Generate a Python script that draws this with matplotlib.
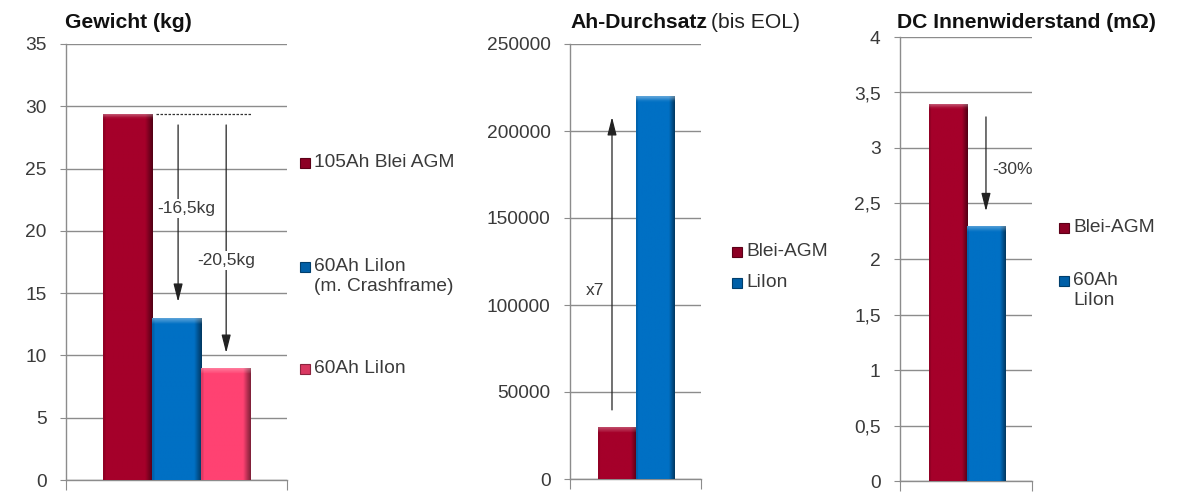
import matplotlib
matplotlib.use("Agg")
import matplotlib.pyplot as plt
import numpy as np
from matplotlib.lines import Line2D
from matplotlib.patches import Rectangle

plt.rcParams['font.family'] = ['Liberation Sans', 'DejaVu Sans']

# ---------------- data ----------------
w_labels = ["105Ah Blei AGM", "60Ah LiIon\n(m. Crashframe)", "60Ah LiIon"]
w_values = [29.4, 13.0, 9.0]
w_ticks = [0, 5, 10, 15, 20, 25, 30, 35]
w_ticklabels = ["0", "5", "10", "15", "20", "25", "30", "35"]

a_labels = ["Blei-AGM", "LiIon"]
a_values = [30000, 220000]
a_ticks = [0, 50000, 100000, 150000, 200000, 250000]
a_ticklabels = ["0", "50000", "100000", "150000", "200000", "250000"]

r_labels = ["Blei-AGM", "60Ah\nLiIon"]
r_values = [3.4, 2.3]
r_ticks = [0, 0.5, 1, 1.5, 2, 2.5, 3, 3.5, 4]
r_ticklabels = ["0", "0,5", "1", "1,5", "2", "2,5", "3", "3,5", "4"]

RED = "#A5002A"
BLUE = "#0070C4"
PINK = "#FF4272"
GRID = "#8C8C8C"
TXT = "#3A3A3A"

fig = plt.figure(figsize=(12, 4.98), dpi=100)
W, H = 1200, 498


def px_axes(l, r, top, bot):
    return fig.add_axes([l / W, 1 - bot / H, (r - l) / W, (bot - top) / H])


def shade(c, f):
    c = np.array(matplotlib.colors.to_rgb(c))
    if f < 0:
        return tuple(c * (1 + f))
    return tuple(c + (1 - c) * f)


def style(ax, ticks, labels, ylim, xlim):
    ax.set_ylim(*ylim)
    ax.set_xlim(*xlim)
    for s in ("top", "right"):
        ax.spines[s].set_visible(False)
    for s in ("left", "bottom"):
        ax.spines[s].set_color(GRID)
        ax.spines[s].set_linewidth(1)
    ax.set_yticks(ticks)
    ax.set_yticklabels(labels, fontsize=13.8, color=TXT)
    ax.tick_params(axis="y", length=4, color=GRID, pad=10)
    ax.set_xticks([xlim[0], xlim[1]])
    ax.set_xticklabels([])
    ax.tick_params(axis="x", length=7, color=GRID, direction="out")
    ax.yaxis.grid(True, color=GRID, lw=1)
    ax.set_axisbelow(True)
    ax.patch.set_alpha(0)


def draw_bars(ax, values, colors):
    bars = ax.bar(range(len(values)), values, width=1.0, color=colors, zorder=3)
    ylo, yhi = ax.get_ylim()
    bb = ax.get_window_extent()
    per_px = (yhi - ylo) / bb.height
    for b, c in zip(bars, colors):
        x0, y0 = b.get_x(), b.get_y()
        w, h = b.get_width(), b.get_height()
        n = 60
        grad = np.ones(n)
        k = int(n * 0.86)
        grad[k:] = np.linspace(0.95, 0.5, n - k)
        grad[:3] = 0.88
        base = np.array(matplotlib.colors.to_rgb(c))
        img = base[None, None, :] * grad[None, :, None]
        # vertical top bevel (lighter band of ~6 px)
        m = 200
        rows = np.zeros(m)
        top_rows = max(2, int(round(6 * per_px / h * m)))
        rows[:top_rows] = np.linspace(0.35, 0.05, top_rows)
        full = img.repeat(m, axis=0)
        full = full + (1 - full) * rows[:, None, None]
        im = ax.imshow(full, extent=(x0, x0 + w, y0, y0 + h), aspect="auto",
                       zorder=4, interpolation="bilinear", origin="upper")
        im.set_clip_path(b)
    return bars


def legend_items(entries):
    for (x, y, text, color) in entries:
        fig.add_artist(Line2D([x / W], [1 - y / H], marker="s", markersize=6.5,
                              color=shade(color, -0.15), markeredgecolor=shade(color, -0.45),
                              markeredgewidth=0.8, transform=fig.transFigure))
        fig.text((x + 9) / W, 1 - (y - 9) / H, text, fontsize=13.8, color=TXT,
                 ha="left", va="top", linespacing=1.25)


# ---------------- panel 1: Gewicht ----------------
ax1 = px_axes(66, 287, 44, 480)
style(ax1, w_ticks, w_ticklabels, (0, 35), (-1.245, 3.26))
draw_bars(ax1, w_values, [RED, BLUE, PINK])
ax1.hlines(w_values[0], 0.58, 2.52, colors="#333333", lw=0.9, linestyles=(0, (2, 1.2)), zorder=6)
arrow = dict(arrowstyle="-|>,head_length=1.1,head_width=0.28", color="#222222",
             lw=0.9, mutation_scale=10, shrinkA=0, shrinkB=0)
ax1.annotate("", xy=(1.04, 14.3), xytext=(1.04, 28.5), arrowprops=arrow, zorder=6)
ax1.annotate("", xy=(2.02, 10.2), xytext=(2.02, 28.5), arrowprops=arrow, zorder=6)
ax1.text(1.2, 21.8, "-16,5kg", fontsize=12.5, color=TXT, ha="center", va="center", zorder=7,
         bbox=dict(facecolor="white", edgecolor="none", pad=1.5))
ax1.text(2.02, 17.6, "-20,5kg", fontsize=12.5, color=TXT, ha="center", va="center", zorder=7,
         bbox=dict(facecolor="white", edgecolor="none", pad=1.5))
fig.text(65 / W, 1 - 22 / H, "Gewicht (kg)", fontsize=15.2, fontweight="bold",
         color="#111111", ha="left", va="center")
legend_items([(305, 163, w_labels[0], RED), (305, 267, w_labels[1], BLUE),
              (305, 369, w_labels[2], PINK)])

# ---------------- panel 2: Ah-Durchsatz ----------------
ax2 = px_axes(570, 701, 44, 479)
style(ax2, a_ticks, a_ticklabels, (0, 250000), (-1.22, 2.18))
draw_bars(ax2, a_values, [RED, BLUE])
ax2.annotate("", xy=(-0.13, 208000), xytext=(-0.13, 39700), arrowprops=arrow, zorder=6)
ax2.text(-0.57, 108600, "x7", fontsize=12.5, color=TXT, ha="center", va="center", zorder=7)
t_b = fig.text(570 / W, 1 - 22 / H, "Ah-Durchsatz", fontsize=15.2, fontweight="bold",
               color="#111111", ha="left", va="center")
fig.canvas.draw()
ext = t_b.get_window_extent()
fig.text(ext.x1 / W + 4 / W, 1 - 22 / H, "(bis EOL)", fontsize=15.2, color="#222222",
         ha="left", va="center")
legend_items([(737, 252, a_labels[0], RED), (737, 283, a_labels[1], BLUE)])

# ---------------- panel 3: DC Innenwiderstand ----------------
ax3 = px_axes(900, 1032, 37, 481)
style(ax3, r_ticks, r_ticklabels, (0, 4), (-1.26, 2.21))
draw_bars(ax3, r_values, [RED, BLUE])
ax3.annotate("", xy=(1.0, 2.43), xytext=(1.0, 3.28), arrowprops=arrow, zorder=6)
ax3.text(1.16, 2.81, "-30%", fontsize=12.5, color=TXT, ha="left", va="center", zorder=7)
fig.text(897 / W, 1 - 22 / H, "DC Innenwiderstand (mΩ)", fontsize=15.2, fontweight="bold",
         color="#111111", ha="left", va="center")
legend_items([(1064, 228, r_labels[0], RED), (1064, 281, r_labels[1], BLUE)])

fig.savefig("out.png", dpi=100, facecolor="white")
